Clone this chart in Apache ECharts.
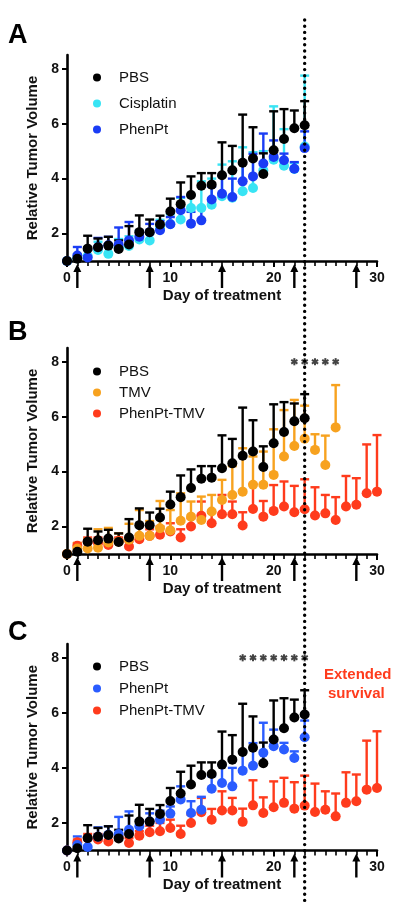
<!DOCTYPE html>
<html><head><meta charset="utf-8">
<script src="https://cdn.jsdelivr.net/npm/echarts@6/dist/echarts.min.js"></script>
<style>html,body{margin:0;padding:0;background:#fff}#c{width:400px;height:915px}</style>
</head><body><div id="c"></div>
<script>
// ---------- data ----------
const days = [0,1,2,3,4,5,6,7,8,9,10,11,12,13,14,15,16,17,18,19,20,21,22,23,24,25,26,27,28,29,30];
const pbsMean  = [1.0,1.08,1.45,1.5,1.56,1.44,1.6,2.05,2.05,2.33,2.8,3.07,3.4,3.74,3.78,4.12,4.3,4.58,4.73,4.17,5.03,5.44,5.83,5.94];
const pbsUpper = [1.0,1.1,1.92,1.82,1.88,1.75,2.27,2.66,2.51,2.65,3.27,3.86,4.08,4.2,4.2,5.32,5.19,6.33,5.87,4.92,6.45,6.53,6.48,6.82];
const cisMean  = [1.0,1.1,1.18,1.4,1.26,1.5,1.55,1.78,1.75,2.2,2.35,2.51,2.93,2.93,3.05,3.36,3.3,3.54,3.66,4.3,4.69,4.47,4.35,5.17];
const cisUpper = [1.0,1.25,1.5,1.7,1.6,1.8,1.9,2.1,2.0,2.5,2.7,3.3,3.4,3.9,4.0,4.51,4.63,5.14,4.96,5.0,6.63,5.8,4.57,7.75];
const phenMean  = [1.0,1.2,1.13,1.5,1.57,1.6,1.75,1.88,2.05,2.12,2.34,2.85,2.36,2.48,3.24,3.45,3.33,3.9,4.08,4.55,4.79,4.67,4.36,5.11];
const phenUpper = [1.0,1.51,1.4,1.84,1.88,2.22,2.42,2.1,2.35,2.45,2.6,3.33,2.79,2.95,3.7,4.1,4.0,4.6,4.9,5.64,5.39,4.91,4.6,5.72];
const tmvMean  = [1.0,1.2,1.2,1.23,1.42,1.45,1.52,1.66,1.66,1.94,1.86,2.21,2.36,2.24,2.55,2.97,3.15,3.27,3.52,3.52,3.88,4.55,4.93,5.2,4.79,4.24,5.61];
const tmvUpper = [1.0,1.4,1.55,1.9,1.95,1.75,2.1,2.6,2.2,2.93,2.6,3.21,2.91,3.09,3.15,3.7,4.2,4.85,4.55,4.73,5.54,6.24,6.61,6.4,5.36,5.31,7.15];
const ptmvMean  = [1.0,1.3,1.45,1.4,1.33,1.48,1.27,1.54,1.66,1.7,1.82,1.6,2.0,2.39,2.12,2.45,2.45,2.04,2.64,2.36,2.57,2.73,2.52,2.63,2.4,2.48,2.24,2.73,2.79,3.21,3.27];
const ptmvUpper = [1.0,1.4,1.6,1.6,1.55,1.6,1.45,1.7,1.9,2.0,2.12,1.9,2.3,2.91,2.51,3.15,2.91,2.52,3.55,2.93,3.51,3.64,3.48,3.72,3.43,3.15,3.07,3.84,3.76,4.99,5.33];
const arrowDays = [1, 8, 15, 22, 28];
const starDaysB = [22, 23, 24, 25, 26];
const starDaysC = [17, 18, 19, 20, 21, 22, 23];
const starLevel = 8;
const cutoffDay = 23;
const yTicks = [2, 4, 6, 8];

const C = {pbs:'#000000', cis:'#38e4f4', phenA:'#1a3cf5', phenC:'#2a5cff', tmv:'#f7a21f', ptmv:'#ff3b1c'};
const FONT = 'Arial, "Liberation Sans", sans-serif';

function pts(mean){ return mean.map((v,i)=>[days[i], v]); }
function errs(mean, up){ return mean.map((v,i)=>[days[i], v, up[i]]); }

function errRender(color){
  return function(params, api){
    const x = api.value(0), m = api.value(1), u = api.value(2);
    if (u <= m + 0.02) return null;
    const p0 = api.coord([x, m]), p1 = api.coord([x, u]);
    return {type:'group', children:[
      {type:'line', shape:{x1:p0[0], y1:p0[1], x2:p1[0], y2:p1[1]}, style:{stroke:color, lineWidth:2.4}},
      {type:'line', shape:{x1:p1[0]-4.5, y1:p1[1], x2:p1[0]+4.5, y2:p1[1]}, style:{stroke:color, lineWidth:2.4}}
    ]};
  };
}
function arrowRender(params, api){
  const p = api.coord([api.value(0), 1]);
  const x = p[0], y = p[1];
  return {type:'group', children:[
    {type:'line', shape:{x1:x, y1:y+8, x2:x, y2:y+27}, style:{stroke:'#000', lineWidth:2.4}},
    {type:'polygon', shape:{points:[[x, y+3],[x-4, y+11],[x+4, y+11]]}, style:{fill:'#000'}}
  ]};
}
function starRender(params, api){
  const p = api.coord([api.value(0), api.value(1)]);
  const r = 3.6, ch = [];
  for (let k=0;k<3;k++){
    const a = Math.PI/2 + k*Math.PI/3;
    ch.push({type:'line', shape:{x1:p[0]-r*Math.cos(a), y1:p[1]-r*Math.sin(a), x2:p[0]+r*Math.cos(a), y2:p[1]+r*Math.sin(a)}, style:{stroke:'#444', lineWidth:2}});
  }
  return {type:'group', children:ch};
}

const grids = [
  {left:67, right:23, top:55, height:206},
  {left:67, right:23, top:348, height:206},
  {left:67, right:23, top:644, height:206.5}
];
const xAxes = grids.map((g,i)=>({
  type:'value', gridIndex:i, min:0, max:30, interval:10,
  name:'Day of treatment', nameLocation:'middle', nameGap:27,
  nameTextStyle:{fontFamily:FONT, fontWeight:'bold', fontSize:15, color:'#111'},
  axisLine:{show:true, lineStyle:{color:'#000', width:2.6}},
  axisTick:{show:true, length:6, lineStyle:{color:'#000', width:2}},
  minorTick:{show:true, splitNumber:10, length:5, lineStyle:{color:'#000', width:1.6}},
  axisLabel:{fontFamily:FONT, fontWeight:'bold', fontSize:14, color:'#111', margin:10},
  splitLine:{show:false}
}));
const yAxes = grids.map((g,i)=>({
  type:'value', gridIndex:i, min:1, max:8.5,
  name:'Relative Tumor Volume', nameLocation:'middle', nameGap:23, nameRotate:90,
  nameTextStyle:{fontFamily:FONT, fontWeight:'bold', fontSize:15, color:'#111'},
  axisLine:{show:true, lineStyle:{color:'#000', width:2.6}},
  axisTick:{show:true, length:5, lineStyle:{color:'#000', width:2}, customValues:yTicks},
  axisLabel:{fontFamily:FONT, fontWeight:'bold', fontSize:14, color:'#111', margin:8, customValues:yTicks},
  splitLine:{show:false}
}));

function group(name, gi, mean, up, color){
  return [
    {type:'custom', name:name+' SD', xAxisIndex:gi, yAxisIndex:gi, renderItem:errRender(color), data:errs(mean, up), clip:false, z:2},
    {type:'scatter', name:name, xAxisIndex:gi, yAxisIndex:gi, data:pts(mean), symbol:'circle', symbolSize:10, itemStyle:{color:color, opacity:1}, z:3}
  ];
}
const series = [].concat(
  group('Cisplatin', 0, cisMean, cisUpper, C.cis),
  group('PhenPt', 0, phenMean, phenUpper, C.phenA),
  group('PBS', 0, pbsMean, pbsUpper, C.pbs),
  group('PhenPt-TMV', 1, ptmvMean, ptmvUpper, C.ptmv),
  group('TMV', 1, tmvMean, tmvUpper, C.tmv),
  group('PBS', 1, pbsMean, pbsUpper, C.pbs),
  group('PhenPt-TMV', 2, ptmvMean, ptmvUpper, C.ptmv),
  group('PhenPt', 2, phenMean, phenUpper, C.phenC),
  group('PBS', 2, pbsMean, pbsUpper, C.pbs)
);
[0,1,2].forEach(gi=>{
  series.push({type:'custom', name:'arrows'+gi, xAxisIndex:gi, yAxisIndex:gi, renderItem:arrowRender, data:arrowDays.map(d=>[d,1]), clip:false, z:4});
});
series.push({type:'custom', name:'starsB', xAxisIndex:1, yAxisIndex:1, renderItem:starRender, data:starDaysB.map(d=>[d,starLevel]), clip:false});
series.push({type:'custom', name:'starsC', xAxisIndex:2, yAxisIndex:2, renderItem:starRender, data:starDaysC.map(d=>[d,starLevel]), clip:false});

function legend(names, top, gap, colors){
  return {orient:'vertical', left:88, top:top, itemWidth:8, itemHeight:8, itemGap:gap, icon:'circle',
    data:names.map((n,i)=>({name:n, itemStyle:{color:colors[i]}})), selectedMode:false,
    textStyle:{fontFamily:FONT, fontSize:15, color:'#111', padding:[0,0,0,13]}};
}

const option = {
  animation:false,
  backgroundColor:'#fff',
  title:[
    {text:'A', left:8, top:22, padding:0, textStyle:{fontFamily:FONT, fontWeight:'bold', fontSize:27, color:'#000'}},
    {text:'B', left:8, top:319, padding:0, textStyle:{fontFamily:FONT, fontWeight:'bold', fontSize:27, color:'#000'}},
    {text:'C', left:8, top:619, padding:0, textStyle:{fontFamily:FONT, fontWeight:'bold', fontSize:27, color:'#000'}}
  ],
  legend:[
    legend(['PBS','Cisplatin','PhenPt'], 65, 11, [C.pbs, C.cis, C.phenA]),
    legend(['PBS','TMV','PhenPt-TMV'], 359, 6, [C.pbs, C.tmv, C.ptmv]),
    legend(['PBS','PhenPt','PhenPt-TMV'], 654, 7, [C.pbs, C.phenC, C.ptmv])
  ],
  grid:grids, xAxis:xAxes, yAxis:yAxes, series:series
};
const chart = echarts.init(document.getElementById('c'), null, {renderer:'canvas'});
chart.setOption(option);
const xc = chart.convertToPixel({xAxisIndex:0}, cutoffDay);
chart.setOption({graphic:[
  {type:'line', z:100, shape:{x1:xc, y1:20, x2:xc, y2:906}, style:{stroke:'#000', lineWidth:3.4, lineDash:[0,6.2], lineCap:'round'}},
  {type:'text', z:100, left:358-34, top:667, style:{text:'Extended', fill:C.ptmv, font:'bold 15px '+FONT, textAlign:'center'}},
  {type:'text', z:100, left:358-30, top:686, style:{text:'survival', fill:C.ptmv, font:'bold 15px '+FONT}}
]});
</script></body></html>
